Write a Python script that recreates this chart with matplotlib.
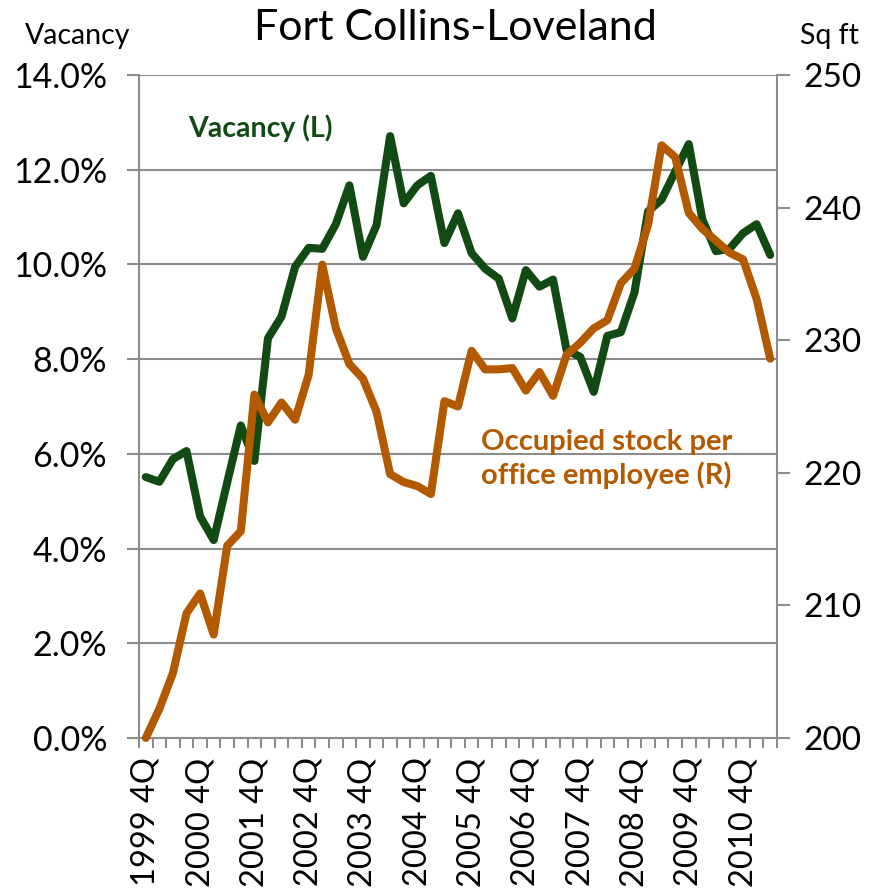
import matplotlib
matplotlib.use("Agg")
import matplotlib.pyplot as plt
import numpy as np

# quarters 1999 4Q .. 2011 2Q
quarters = ["1999 4Q"] + [f"{y} {q}Q" for y in range(2000, 2011) for q in (1, 2, 3, 4)] + ["2011 1Q", "2011 2Q"]

vacancy = [5.51, 5.41, 5.89, 6.06, 4.68, 4.18, 5.40, 6.60, 5.85, 8.44,
           8.90, 9.95, 10.35, 10.33, 10.85, 11.67, 10.16, 10.83, 12.71, 11.29,
           11.67, 11.87, 10.45, 11.08, 10.24, 9.91, 9.70, 8.86, 9.88, 9.53,
           9.68, 8.19, 8.05, 7.31, 8.49, 8.57, 9.41, 11.12, 11.37, 11.96,
           12.54, 10.95, 10.28, 10.33, 10.66, 10.85, 10.20]

sqft = [200.0, 202.2, 204.9, 209.4, 210.9, 207.8, 214.5, 215.6, 225.9, 223.8,
        225.3, 224.0, 227.4, 235.7, 230.9, 228.2, 227.1, 224.6, 219.9, 219.3,
        219.0, 218.4, 225.4, 225.0, 229.2, 227.8, 227.8, 227.9, 226.2, 227.6,
        225.8, 228.9, 229.8, 230.9, 231.5, 234.3, 235.4, 238.7, 244.7, 243.8,
        239.6, 238.4, 237.5, 236.6, 236.1, 233.1, 228.6]

green = "#124A14"
orange = "#B35900"
grid_c = "#8C8C8C"

plt.rcParams["font.family"] = ["Lato", "DejaVu Sans"]

fig = plt.figure(figsize=(8.71, 8.90), dpi=100)
ax = fig.add_axes([139 / 871, 1 - 738 / 890, (777 - 139) / 871, (738 - 75) / 890])
ax2 = ax.twinx()

x = np.arange(len(quarters))
ax.plot(x, vacancy, color=green, lw=5.8, solid_joinstyle="round", solid_capstyle="round", clip_on=False)
ax2.plot(x, sqft, color=orange, lw=5.8, solid_joinstyle="round", solid_capstyle="round", clip_on=False)

ax.set_xlim(-0.5, len(quarters) - 0.5)
ax.set_ylim(0, 14)
ax2.set_ylim(200, 250)

ax.set_yticks(np.arange(0, 15, 2))
ax.set_yticklabels([f"{v:.1f}%" for v in np.arange(0, 15, 2)])
ax2.set_yticks(np.arange(200, 251, 10))

ax.set_xticks(x[::4])
ax.set_xticklabels(quarters[::4], rotation=90)
ax.set_xticks(np.arange(-0.5, len(quarters), 1), minor=True)

ax.grid(axis="y", color=grid_c, lw=1.5)
ax.set_axisbelow(True)

for a in (ax, ax2):
    for s in a.spines.values():
        s.set_visible(False)
ax.spines["left"].set_visible(True)
ax.spines["left"].set_color(grid_c)
ax.spines["left"].set_linewidth(1.5)
ax.spines["bottom"].set_visible(True)
ax.spines["bottom"].set_color(grid_c)
ax.spines["bottom"].set_linewidth(1.5)
ax2.spines["right"].set_visible(True)
ax2.spines["right"].set_color(grid_c)
ax2.spines["right"].set_linewidth(1.5)

ax.tick_params(axis="y", length=9, width=1.5, color=grid_c, labelsize=24.5, pad=14)
ax2.tick_params(axis="y", length=9, width=1.5, color=grid_c, labelsize=24, pad=10)
ax.tick_params(axis="x", which="major", length=0, labelsize=23.5, pad=14)
ax.tick_params(axis="x", which="minor", length=7, width=1.5, color=grid_c)

fig.text(455 / 871, 1 - 28 / 890, "Fort Collins-Loveland", ha="center", va="center", fontsize=31)
fig.text(78 / 871, 1 - 36 / 890, "Vacancy", ha="center", va="center", fontsize=20.5)
fig.text(829 / 871, 1 - 36 / 890, "Sq ft", ha="center", va="center", fontsize=20.5)

fig.text(188 / 871, 1 - 128 / 890, "Vacancy (L)", ha="left", va="center",
         fontsize=20.5, fontweight="bold", color=green)
fig.text(481 / 871, 1 - 459 / 890, "Occupied stock per\noffice employee (R)", ha="left", va="center",
         fontsize=21, fontweight="bold", color=orange, linespacing=1.3)

fig.savefig("out.png", dpi=100)
